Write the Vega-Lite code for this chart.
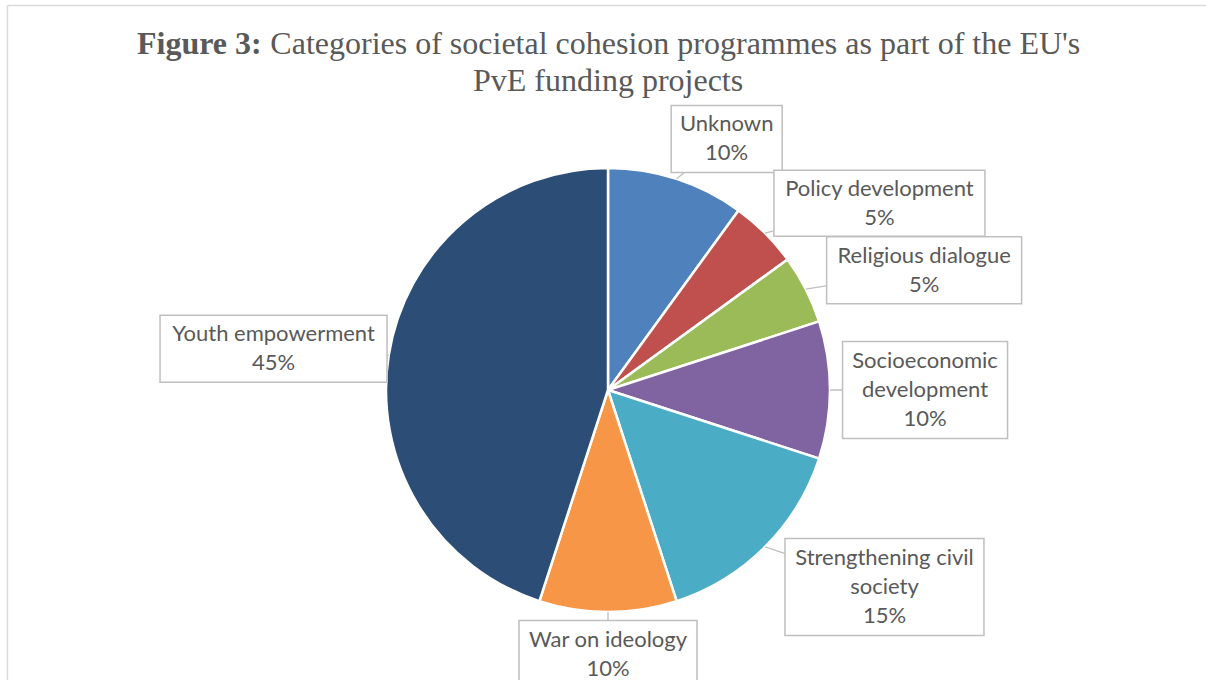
{
  "$schema": "https://vega.github.io/schema/vega-lite/v6.json",
  "width": 1199,
  "height": 675,
  "autosize": {"type": "none"},
  "padding": {"left": 7, "top": 5, "right": 0, "bottom": 0},
  "background": "white",
  "title": {
    "text": "Figure 3:",
    "subtitle": [
      "\u200b\u00a0\u00a0\u00a0\u00a0\u00a0\u00a0\u00a0\u00a0\u00a0\u00a0\u00a0\u00a0\u00a0\u00a0\u00a0\u00a0\u2006Categories of societal cohesion programmes as part of the EU's",
      "\u200b\u00a0\u00a0\u00a0\u00a0\u00a0\u00a0\u00a0\u00a0\u00a0\u00a0\u00a0\u00a0\u00a0\u00a0\u00a0\u00a0\u00a0\u00a0\u00a0\u00a0\u00a0\u00a0\u00a0\u00a0\u00a0\u00a0\u00a0\u00a0\u00a0\u00a0\u00a0\u00a0\u00a0\u00a0\u00a0\u00a0\u00a0\u00a0\u00a0\u00a0\u00a0\u00a0PvE funding projects"
    ],
    "anchor": "start",
    "frame": "group",
    "orient": "top",
    "dx": 130,
    "offset": -93,
    "font": "Liberation Serif",
    "fontSize": 32,
    "fontWeight": "bold",
    "color": "#595959",
    "subtitleFont": "Liberation Serif",
    "subtitleFontSize": 32,
    "subtitleFontWeight": "normal",
    "subtitleColor": "#595959",
    "subtitlePadding": -32,
    "subtitleLineHeight": 37
  },
  "data": {
    "values": [
      {"category": "Unknown", "label": "Unknown", "value": 10},
      {"category": "Policy development", "label": "Policy development", "value": 5},
      {"category": "Religious dialogue", "label": "Religious dialogue", "value": 5},
      {"category": "Socioeconomic development", "label": "Socioeconomic\ndevelopment", "value": 10},
      {"category": "Strengthening civil society", "label": "Strengthening civil\nsociety", "value": 15},
      {"category": "War on ideology", "label": "War on ideology", "value": 10},
      {"category": "Youth empowerment", "label": "Youth empowerment", "value": 45}
    ]
  },
  "transform": [
    {"joinaggregate": [{"op": "sum", "field": "value", "as": "total"}]},
    {"window": [{"op": "sum", "field": "value", "as": "cum"}, {"op": "row_number", "as": "rank"}], "frame": [null, 0]},
    {"calculate": "2*PI*(datum.cum - datum.value/2)/datum.total", "as": "mid"},
    {"calculate": "sin(datum.mid)", "as": "s"},
    {"calculate": "datum.label + '\\n' + datum.value + '%'", "as": "txt"},
    {"calculate": "length(split(datum.txt, '\\n'))", "as": "nl"},
    {"calculate": "max(length(split(datum.label, '\\n')[0]), length(split(datum.label, '\\n')[1] || ''))", "as": "ml"},
    {"calculate": "240*datum.s + (5.2*datum.ml + 11)*datum.s/(abs(datum.s)+0.02)", "as": "lx"},
    {"calculate": "(231 + 14.5*datum.nl + 4)*cos(datum.mid)", "as": "ly"},
    {"calculate": "222*sin(datum.mid)", "as": "ex"},
    {"calculate": "222*cos(datum.mid)", "as": "ey"},
    {"calculate": "datum.ly + (datum.nl - 1)*14.5", "as": "ty"}
  ],
  "layer": [
    {
      "mark": {"type": "arc", "outerRadius": 222, "stroke": "white", "strokeWidth": 2.5},
      "encoding": {
        "x": {"datum": 0, "type": "quantitative", "scale": {"domain": [-601, 598], "nice": false, "zero": false}, "axis": {"orient": "top", "title": null, "labels": false, "ticks": false, "grid": false, "domainColor": "#d9d9d9", "domainWidth": 1.5}},
        "y": {"datum": 0, "type": "quantitative", "scale": {"domain": [-290, 385], "nice": false, "zero": false}, "axis": {"orient": "left", "title": null, "labels": false, "ticks": false, "grid": false, "domainColor": "#d9d9d9", "domainWidth": 1.5}},
        "theta": {"field": "value", "type": "quantitative", "stack": true},
        "order": {"field": "rank", "type": "quantitative"},
        "color": {
          "field": "category", "type": "nominal", "legend": null,
          "scale": {
            "domain": ["Unknown", "Policy development", "Religious dialogue", "Socioeconomic development", "Strengthening civil society", "War on ideology", "Youth empowerment"],
            "range": ["#4F81BD", "#C0504D", "#9BBB59", "#8064A2", "#4BACC6", "#F79646", "#2C4D75"]
          }
        }
      }
    },
    {
      "mark": {"type": "rule", "color": "#bfbfbf", "strokeWidth": 1.3},
      "encoding": {
        "x": {"field": "ex", "type": "quantitative", "scale": {"domain": [-601, 598], "nice": false, "zero": false}, "axis": {"orient": "top", "title": null, "labels": false, "ticks": false, "grid": false, "domainColor": "#d9d9d9", "domainWidth": 1.5}},
        "y": {"field": "ey", "type": "quantitative", "scale": {"domain": [-290, 385], "nice": false, "zero": false}, "axis": {"orient": "left", "title": null, "labels": false, "ticks": false, "grid": false, "domainColor": "#d9d9d9", "domainWidth": 1.5}},
        "x2": {"field": "lx"},
        "y2": {"field": "ly"}
      }
    },
    {
      "mark": {"type": "point", "filled": true, "fill": "white", "stroke": "#bfbfbf", "strokeWidth": 1.5, "size": 40000, "opacity": 1},
      "encoding": {
        "x": {"field": "lx", "type": "quantitative", "scale": {"domain": [-601, 598], "nice": false, "zero": false}, "axis": {"orient": "top", "title": null, "labels": false, "ticks": false, "grid": false, "domainColor": "#d9d9d9", "domainWidth": 1.5}},
        "y": {"field": "ly", "type": "quantitative", "scale": {"domain": [-290, 385], "nice": false, "zero": false}, "axis": {"orient": "left", "title": null, "labels": false, "ticks": false, "grid": false, "domainColor": "#d9d9d9", "domainWidth": 1.5}},
        "shape": {
          "field": "category", "type": "nominal", "legend": null,
          "scale": {
            "domain": ["Unknown", "Policy development", "Religious dialogue", "Socioeconomic development", "Strengthening civil society", "War on ideology", "Youth empowerment"],
            "range": [
              "M-0.555,-0.335H0.555V0.335H-0.555Z",
              "M-1.055,-0.33H1.055V0.33H-1.055Z",
              "M-0.975,-0.335H0.975V0.335H-0.975Z",
              "M-0.825,-0.485H0.825V0.485H-0.825Z",
              "M-0.995,-0.485H0.995V0.485H-0.995Z",
              "M-0.89,-0.335H0.89V0.335H-0.89Z",
              "M-1.135,-0.335H1.135V0.335H-1.135Z"
            ]
          }
        }
      }
    },
    {
      "mark": {"type": "text", "font": "Lato", "fontSize": 22, "color": "#595959", "lineBreak": "\n", "lineHeight": 29, "align": "center", "baseline": "middle"},
      "encoding": {
        "x": {"field": "lx", "type": "quantitative", "scale": {"domain": [-601, 598], "nice": false, "zero": false}, "axis": {"orient": "top", "title": null, "labels": false, "ticks": false, "grid": false, "domainColor": "#d9d9d9", "domainWidth": 1.5}},
        "y": {"field": "ty", "type": "quantitative", "scale": {"domain": [-290, 385], "nice": false, "zero": false}, "axis": {"orient": "left", "title": null, "labels": false, "ticks": false, "grid": false, "domainColor": "#d9d9d9", "domainWidth": 1.5}},
        "text": {"field": "txt", "type": "nominal"}
      }
    }
  ],
  "config": {"view": {"stroke": null}}
}
